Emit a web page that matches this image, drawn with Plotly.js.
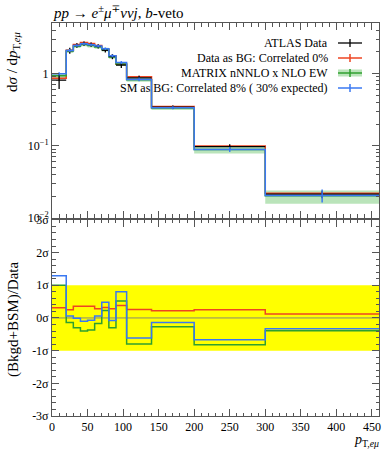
<!DOCTYPE html>
<html>
<head>
<meta charset="utf-8">
<script src="https://cdn.plot.ly/plotly-3.0.1.min.js"></script>
<style>html,body{margin:0;padding:0;background:#fff;}#plot{width:392px;height:450px;}</style>
</head>
<body>
<div id="plot"></div>
<script>
// ---- data ----
const binEdges = [0, 20, 30, 40, 50, 60, 70, 80, 90, 105, 140, 200, 300, 460];
const atlasData = [0.81, 2.08, 2.45, 2.60, 2.52, 2.38, 2.10, 1.72, 1.31, 0.87, 0.342, 0.097, 0.0213];
const atlasErr = [0.20, 0.20, 0.18, 0.18, 0.17, 0.16, 0.15, 0.14, 0.12, 0.06, 0.02, 0.008, 0.0025];
const redBG = [0.86, 2.11, 2.53, 2.69, 2.61, 2.44, 2.17, 1.77, 1.35, 0.90, 0.349, 0.0995, 0.0219];
const redErr = [0.03, 0.06, 0.07, 0.07, 0.07, 0.07, 0.06, 0.05, 0.04, 0.03, 0.01, 0.003, 0.0008];
const matrix = [0.93, 2.05, 2.39, 2.53, 2.44, 2.34, 2.15, 1.70, 1.36, 0.82, 0.333, 0.089, 0.0203];
const matrixLo = [0.86, 1.93, 2.25, 2.38, 2.30, 2.20, 2.02, 1.60, 1.27, 0.77, 0.313, 0.078, 0.0157];
const matrixHi = [1.00, 2.17, 2.53, 2.68, 2.58, 2.48, 2.28, 1.80, 1.45, 0.88, 0.355, 0.097, 0.0240];
const smBG = [0.99, 2.09, 2.45, 2.59, 2.50, 2.40, 2.21, 1.76, 1.42, 0.83, 0.336, 0.089, 0.0205];
const smErr = [0.05, 0.10, 0.10, 0.10, 0.10, 0.10, 0.09, 0.08, 0.07, 0.05, 0.015, 0.007, 0.0042];
const pullRed = [0.31, 0.25, 0.36, 0.36, 0.36, 0.28, 0.32, 0.28, 0.38, 0.26, 0.22, 0.25, 0.12];
const pullGreen = [1.00, -0.14, -0.30, -0.40, -0.37, -0.17, 0.23, -0.30, 0.52, -0.80, -0.27, -0.82, -0.39];
const pullBlue = [1.29, 0.06, -0.01, -0.10, -0.07, 0.06, 0.48, -0.08, 0.80, -0.61, -0.14, -0.67, -0.33];
const xTicks = [0, 50, 100, 150, 200, 250, 300, 350, 400, 450];
const pullTicks = [-3, -2, -1, 0, 1, 2, 3];
const pullTickText = ['-3σ', '-2σ', '-1σ', '0σ', '1σ', '2σ', '3σ'];

// ---- helpers ----
const RED = '#ee4422', GREEN = '#2fa02f', BLUE = '#3a78f2', BAND = 'rgba(130,205,130,0.55)';
const centers = atlasData.map((_, i) => (binEdges[i] + binEdges[i + 1]) / 2);
const halfW = atlasData.map((_, i) => (binEdges[i + 1] - binEdges[i]) / 2);
const stepY = v => v.concat([v[v.length - 1]]);
function stepTrace(vals, color, xa, ya, extra) {
  return Object.assign({x: binEdges, y: stepY(vals), xaxis: xa, yaxis: ya, mode: 'lines',
    line: {shape: 'hv', color: color, width: 1.5}, hoverinfo: 'skip', showlegend: false}, extra || {});
}
function errTrace(vals, errs, color) {
  return {x: centers, y: vals, xaxis: 'x', yaxis: 'y', mode: 'markers', marker: {size: 0.1, color: color},
    error_y: {type: 'data', array: errs, color: color, thickness: 1.5, width: 0}, showlegend: false, hoverinfo: 'skip'};
}

const traces = [
  stepTrace(matrixLo, 'rgba(0,0,0,0)', 'x', 'y', {line: {shape: 'hv', width: 0}}),
  stepTrace(matrixHi, 'rgba(0,0,0,0)', 'x', 'y', {line: {shape: 'hv', width: 0}, fill: 'tonexty', fillcolor: BAND}),
  stepTrace(redBG, RED, 'x', 'y'),
  errTrace(redBG, redErr, RED),
  stepTrace(matrix, GREEN, 'x', 'y'),
  {x: centers, y: atlasData, xaxis: 'x', yaxis: 'y', mode: 'markers', marker: {size: 0.1, color: '#000'},
   error_x: {type: 'data', array: halfW, color: '#000', thickness: 1.3, width: 0},
   error_y: {type: 'data', array: atlasErr, color: '#000', thickness: 1.3, width: 0}, showlegend: false, hoverinfo: 'skip'},
  stepTrace(smBG, BLUE, 'x', 'y'),
  errTrace(smBG, smErr, BLUE),
  stepTrace(pullRed, RED, 'x2', 'y2'),
  stepTrace(pullGreen, GREEN, 'x2', 'y2'),
  stepTrace(pullBlue, BLUE, 'x2', 'y2')
];

// pixel -> paper
const L = 52, R = 13, T = 23, B = 34, W = 392, H = 450;
const pw = W - L - R, ph = H - T - B;
const px = v => (v - L) / pw;
const py = v => (H - B - v) / ph;

const serif = 'Liberation Serif, DejaVu Serif, serif';
const axCommon = {
  showline: true, linecolor: '#555', linewidth: 1, mirror: 'allticks', ticks: 'inside',
  tickcolor: '#555', showgrid: false, zeroline: false, fixedrange: true,
  tickfont: {family: serif, size: 12, color: '#000'}
};
const minorLogVals = [];
[0.01, 0.1, 1].forEach(d => { for (let k = 2; k <= 9; k++) minorLogVals.push(d * k); });

const layout = {
  width: W, height: H, margin: {l: L, r: R, t: T, b: B},
  paper_bgcolor: '#fff', plot_bgcolor: '#fff', showlegend: false,
  font: {family: serif, size: 12, color: '#000'},
  xaxis: Object.assign({}, axCommon, {anchor: 'y', range: [0, 460], tickvals: xTicks, showticklabels: false,
    ticklen: 7, minor: {dtick: 10, tick0: 0, ticks: 'inside', ticklen: 3.5, tickcolor: '#555'}}),
  yaxis: Object.assign({}, axCommon, {domain: [0.504, 1], type: 'log', range: [-2, 0.7],
    tickvals: [0.01, 0.1, 1], ticktext: ['10<sup>−2</sup>', '10<sup>−1</sup>', '1'], ticklen: 7,
    minor: {tickvals: minorLogVals, ticks: 'inside', ticklen: 3.5, tickcolor: '#555'}}),
  xaxis2: Object.assign({}, axCommon, {anchor: 'y2', range: [0, 460], tickvals: xTicks, ticklen: 7,
    minor: {dtick: 10, tick0: 0, ticks: 'inside', ticklen: 3.5, tickcolor: '#555'}}),
  yaxis2: Object.assign({}, axCommon, {domain: [0, 0.499], range: [-3, 3], tickvals: pullTicks,
    ticktext: pullTickText, ticklen: 7,
    minor: {dtick: 0.2, tick0: 0, ticks: 'inside', ticklen: 3.5, tickcolor: '#555'}}),
  shapes: [
    {type: 'rect', xref: 'x2 domain', yref: 'y2', x0: 0, x1: 1, y0: -1, y1: 1, fillcolor: '#ffff00', line: {width: 0}, layer: 'below'},
    {type: 'line', xref: 'x2 domain', yref: 'y2', x0: 0, x1: 1, y0: 0, y1: 0, line: {color: '#8a8a70', width: 1}, layer: 'below'},
    // legend samples
    {type: 'line', xref: 'paper', yref: 'paper', x0: px(338), x1: px(362), y0: py(43), y1: py(43), line: {color: '#000', width: 1.3}},
    {type: 'line', xref: 'paper', yref: 'paper', x0: px(350), x1: px(350), y0: py(39), y1: py(47), line: {color: '#000', width: 1.3}},
    {type: 'line', xref: 'paper', yref: 'paper', x0: px(338), x1: px(362), y0: py(58), y1: py(58), line: {color: RED, width: 1.5}},
    {type: 'line', xref: 'paper', yref: 'paper', x0: px(350), x1: px(350), y0: py(54), y1: py(62), line: {color: RED, width: 1.5}},
    {type: 'rect', xref: 'paper', yref: 'paper', x0: px(338), x1: px(362), y0: py(69.5), y1: py(76.5), fillcolor: BAND, line: {width: 0}},
    {type: 'line', xref: 'paper', yref: 'paper', x0: px(338), x1: px(362), y0: py(73), y1: py(73), line: {color: GREEN, width: 1.5}},
    {type: 'line', xref: 'paper', yref: 'paper', x0: px(350), x1: px(350), y0: py(69), y1: py(77), line: {color: GREEN, width: 1.5}},
    {type: 'line', xref: 'paper', yref: 'paper', x0: px(338), x1: px(362), y0: py(88), y1: py(88), line: {color: BLUE, width: 1.5}},
    {type: 'line', xref: 'paper', yref: 'paper', x0: px(350), x1: px(350), y0: py(84), y1: py(92), line: {color: BLUE, width: 1.5}}
  ],
  annotations: [
    {xref: 'paper', yref: 'paper', x: px(330), y: py(43), xanchor: 'right', yanchor: 'middle', showarrow: false, text: 'ATLAS Data', font: {size: 12}},
    {xref: 'paper', yref: 'paper', x: px(330), y: py(58), xanchor: 'right', yanchor: 'middle', showarrow: false, text: 'Data as BG: Correlated 0%', font: {size: 12}},
    {xref: 'paper', yref: 'paper', x: px(330), y: py(73), xanchor: 'right', yanchor: 'middle', showarrow: false, text: 'MATRIX nNNLO x NLO EW', font: {size: 12}},
    {xref: 'paper', yref: 'paper', x: px(330), y: py(88), xanchor: 'right', yanchor: 'middle', showarrow: false, text: 'SM as BG: Correlated 8% ( 30% expected)', font: {size: 12}},
    {xref: 'paper', yref: 'paper', x: px(51), y: py(12), xanchor: 'left', yanchor: 'middle', showarrow: false,
     text: '<i>pp</i> → <i>e</i><sup>±</sup><i>μ</i><sup>∓</sup><i>ννj</i>, <i>b</i>-veto', font: {size: 15}},
    {xref: 'paper', yref: 'paper', x: px(13), y: py(30), xanchor: 'center', yanchor: 'top', textangle: -90, showarrow: false,
     text: 'd<i>σ</i> / d<i>p</i><sub>T,<i>eμ</i></sub>', font: {size: 15}},
    {xref: 'paper', yref: 'paper', x: px(13), y: py(320), xanchor: 'center', yanchor: 'middle', textangle: -90, showarrow: false,
     text: '(Bkgd+BSM)/Data', font: {size: 15}},
    {xref: 'paper', yref: 'paper', x: px(381), y: py(440), xanchor: 'right', yanchor: 'middle', showarrow: false,
     text: '<i>p</i><sub>T,<i>eμ</i></sub>', font: {size: 14}}
  ]
};

Plotly.newPlot('plot', traces, layout, {staticPlot: true, displayModeBar: false});
</script>
</body>
</html>
